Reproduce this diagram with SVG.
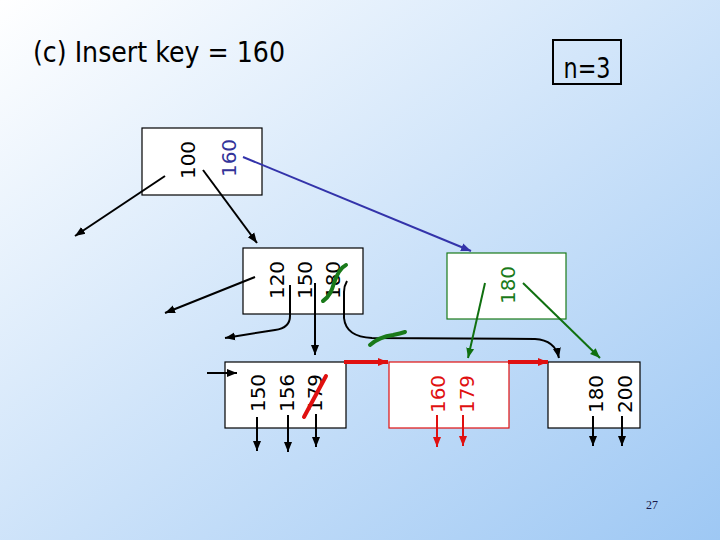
<svg xmlns="http://www.w3.org/2000/svg" width="720" height="540" viewBox="0 0 720 540">
<defs>
<linearGradient id="bg" x1="0" y1="0" x2="1" y2="1">
<stop offset="0" stop-color="#ffffff"/>
<stop offset="1" stop-color="#9ec8f4"/>
</linearGradient>
<marker id="ak" markerUnits="userSpaceOnUse" markerWidth="12" markerHeight="10" refX="10" refY="5" orient="auto"><path d="M0,1 L10,5 L0,9 Z" fill="#000"/></marker>
<marker id="ar" markerUnits="userSpaceOnUse" markerWidth="12" markerHeight="10" refX="10" refY="5" orient="auto"><path d="M0,1 L10,5 L0,9 Z" fill="#e01010"/></marker>
<marker id="ag" markerUnits="userSpaceOnUse" markerWidth="12" markerHeight="10" refX="10" refY="5" orient="auto"><path d="M0,1 L10,5 L0,9 Z" fill="#107010"/></marker>
<marker id="ab" markerUnits="userSpaceOnUse" markerWidth="12" markerHeight="10" refX="10" refY="5" orient="auto"><path d="M0,1 L10,5 L0,9 Z" fill="#3333aa"/></marker>
</defs>
<style>
.box{fill:#fff;stroke:#000;stroke-width:1.2}
.k{font-family:"DejaVu Sans",Verdana,sans-serif;font-size:20px;text-anchor:middle}
.bk{stroke:#000;stroke-width:2;fill:none;marker-end:url(#ak)}
.rd{stroke:#e01010;stroke-width:2;fill:none;marker-end:url(#ar)}
.rdt{stroke:#e01010;stroke-width:4;fill:none;marker-end:url(#ar)}
.gr{stroke:#107010;stroke-width:2;fill:none;marker-end:url(#ag)}
</style>
<rect width="720" height="540" fill="url(#bg)"/>
<text x="33" y="62" font-family="DejaVu Sans,Verdana,sans-serif" font-size="29" textLength="252" lengthAdjust="spacingAndGlyphs">(c) Insert key = 160</text>
<g id="nlabel">
<rect x="553" y="40" width="68" height="44" fill="none" stroke="#000" stroke-width="2"/>
<text x="587" y="78" font-family="DejaVu Sans,Verdana,sans-serif" font-size="29" text-anchor="middle" textLength="47" lengthAdjust="spacingAndGlyphs">n=3</text>
</g>
<g id="root">
<rect class="box" x="142" y="128" width="120" height="67"/>
<text class="k" transform="translate(195,160) rotate(-90)">100</text>
<text class="k" fill="#333399" transform="translate(236,158) rotate(-90)">160</text>
</g>
<g id="inner">
<rect class="box" x="243" y="248" width="120" height="66"/>
<text class="k" transform="translate(284,280) rotate(-90)">120</text>
<text class="k" transform="translate(312,280) rotate(-90)">150</text>
<text class="k" transform="translate(340,280) rotate(-90)">180</text>
<path d="M323,301 C330,296 332,290 334,283 C337,274 340,268 346,265" stroke="#1a7a1a" stroke-width="4" fill="none" stroke-linecap="round"/>
</g>
<g id="green">
<rect x="447" y="253" width="119" height="66" fill="#fff" stroke="#1a7a1a" stroke-width="1.2"/>
<text class="k" fill="#1a7a1a" transform="translate(515,285) rotate(-90)">180</text>
</g>
<g id="leaf1">
<rect class="box" x="225" y="362" width="121" height="66"/>
<text class="k" transform="translate(265,393) rotate(-90)">150</text>
<text class="k" transform="translate(294,393) rotate(-90)">156</text>
<text class="k" transform="translate(322,393) rotate(-90)">179</text>
<path d="M304,417 L326,376" stroke="#e01010" stroke-width="4" fill="none" stroke-linecap="round"/>
</g>
<g id="leaf2">
<rect x="389" y="362" width="120" height="66" fill="#fff" stroke="#e01010" stroke-width="1.2"/>
<text class="k" fill="#e01010" transform="translate(445,394) rotate(-90)">160</text>
<text class="k" fill="#e01010" transform="translate(474,394) rotate(-90)">179</text>
</g>
<g id="leaf3">
<rect class="box" x="548" y="362" width="92" height="66"/>
<text class="k" transform="translate(603,394) rotate(-90)">180</text>
<text class="k" transform="translate(632,394) rotate(-90)">200</text>
</g>
<g id="connectors">
<line class="bk" x1="165" y1="176" x2="75" y2="236"/>
<line class="bk" x1="203" y1="170" x2="257" y2="243"/>
<line x1="243" y1="157" x2="471" y2="251" stroke="#3333aa" stroke-width="2" marker-end="url(#ab)"/>
<line class="bk" x1="255" y1="277" x2="165" y2="313"/>
<path class="bk" d="M290,285 L290,316 Q290,328 275,330 L225,338"/>
<line class="bk" x1="315" y1="283" x2="315" y2="355"/>
<path class="bk" d="M347,281 Q344,286 344,292 L344,318 Q346,337 372,338 L535,339 Q555,340 559,358"/>
<path d="M370,345 C378,338 385,336 393,335 C398,334 402,333 405,332" stroke="#1a7a1a" stroke-width="4" fill="none" stroke-linecap="round"/>
<line class="gr" x1="485" y1="283" x2="468" y2="358"/>
<line class="gr" x1="523" y1="283" x2="600" y2="358"/>
<line class="bk" x1="207" y1="373" x2="237" y2="373"/>
<line class="bk" x1="257" y1="417" x2="257" y2="451"/>
<line class="bk" x1="288" y1="415" x2="288" y2="452"/>
<line class="bk" x1="316" y1="414" x2="316" y2="447"/>
<line class="rdt" x1="344" y1="362" x2="388" y2="362"/>
<line class="rdt" x1="508" y1="362" x2="548" y2="362"/>
<line class="rd" x1="437" y1="415" x2="437" y2="447"/>
<line class="rd" x1="463" y1="415" x2="463" y2="446"/>
<line class="bk" x1="593" y1="416" x2="593" y2="446"/>
<line class="bk" x1="622" y1="416" x2="622" y2="446"/>
</g>
<text x="652" y="509" font-family="Liberation Serif,serif" font-size="12" fill="#1a1a4a" text-anchor="middle">27</text>
</svg>
